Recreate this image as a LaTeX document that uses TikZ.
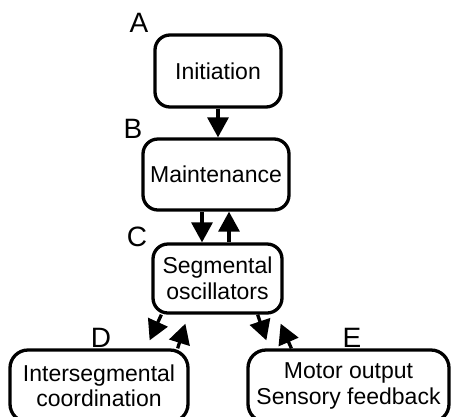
\documentclass[tikz,border=0pt]{standalone}
\usepackage{fontspec}
\setmainfont{Liberation Sans}
\usetikzlibrary{arrows.meta,calc}
\begin{document}
\begin{tikzpicture}[x=1bp,y=-1bp,
  box/.style={draw,line width=3.3bp,rounded corners=15bp,align=center,inner sep=0pt,
    font=\fontsize{23bp}{25.5bp}\selectfont},
  lab/.style={font=\fontsize{28bp}{30bp}\selectfont,inner sep=0pt},
  arr/.style={line width=3.3bp,-{Triangle[length=20bp,width=21bp]}}]
\useasboundingbox (0,0) rectangle (453,416);
\clip (0,0) rectangle (453,416);
\node[box,minimum width=126bp,minimum height=72bp] (init) at (218,71) {Initiation};
\node[box,minimum width=146bp,minimum height=71bp] (maint) at (216,174.5) {Maintenance};
\node[box,minimum width=129bp,minimum height=69bp] (seg) at (217.5,278.5) {Segmental\\oscillators};
\node[box,minimum width=178bp,minimum height=72bp,rounded corners=18bp] (inter) at (99,386) {Intersegmental\\coordination};
\node[box,minimum width=201bp,minimum height=72bp,rounded corners=18bp] (motor) at (348.5,386) {Motor output\\Sensory feedback};
\node[lab] (la) at (139,23) {A};
\node[lab] (lb) at (133,129) {B};
\node[lab] (lc) at (137,237) {C};
\node[lab] (ld) at (101,338) {D};
\node[lab] (le) at (352,338) {E};
\draw[arr] (init.south) -- (init.south |- maint.north);
\draw[arr] ([xshift=-14bp]maint.south) -- ([xshift=-14bp]maint.south |- seg.north);
\draw[arr] ([xshift=13bp]maint.south |- seg.north) -- ([xshift=13bp]maint.south);
\draw[arr] ($(seg.south west)+(10,0)$) -- ($(inter.north east)+(-40,-8)$);
\draw[arr] ($(inter.north east)+(-12,0)$) -- ($(seg.south west)+(34,9)$);
\draw[arr] ($(seg.south east)+(-26,0)$) -- ($(motor.north west)+(20,-8)$);
\draw[arr] ($(motor.north west)+(45,0)$) -- ($(seg.south east)+(-3,9)$);
\end{tikzpicture}
\end{document}
